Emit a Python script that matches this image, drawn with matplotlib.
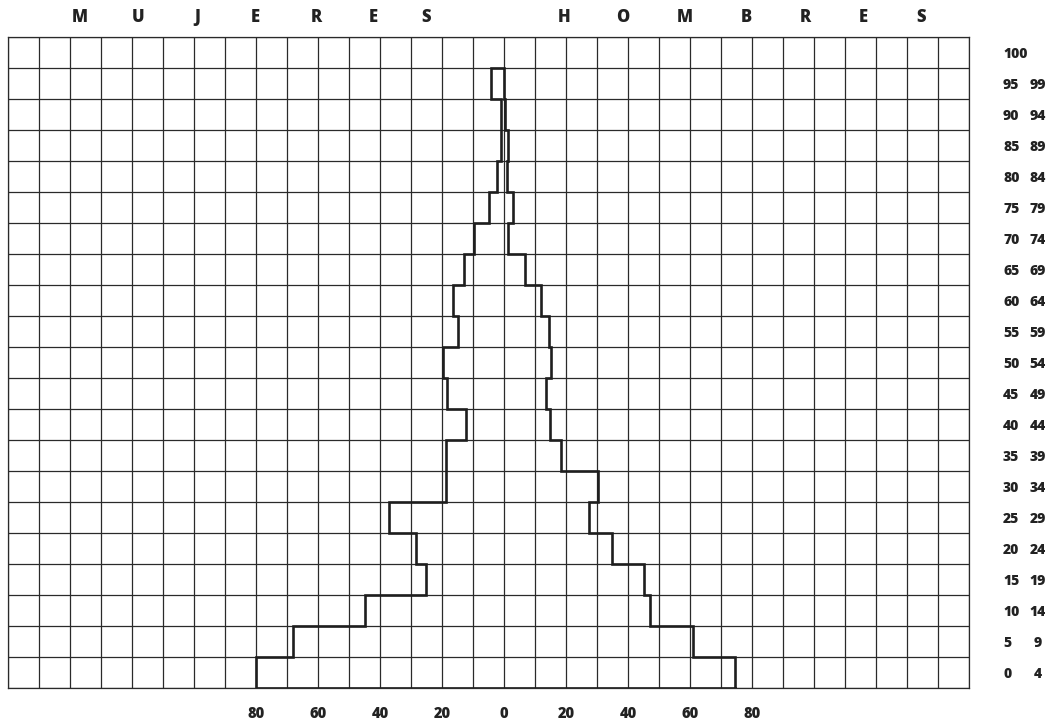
import numpy as np
import matplotlib
matplotlib.use("Agg")
import matplotlib.pyplot as plt
import matplotlib.transforms as mtransforms

# age groups (lower, upper) from bottom to top; last row is "100"
age_low  = [0, 5, 10, 15, 20, 25, 30, 35, 40, 45, 50, 55, 60, 65, 70, 75, 80, 85, 90, 95, 100]
age_high = [4, 9, 14, 19, 24, 29, 34, 39, 44, 49, 54, 59, 64, 69, 74, 79, 84, 89, 94, 99, None]

# values per age group (0-4 ... 95-99)
mujeres = [80, 68, 45, 25, 28.5, 37, 18.7, 18.7, 12.2, 18.5,
           19.6, 14.8, 16.5, 13, 9.6, 4.8, 2.4, 1.1, 1.1, 4.1]
hombres = [74.5, 61, 47, 45.3, 34.8, 27.4, 30.2, 18.3, 15, 13.4,
           15.2, 14.5, 11.8, 6.7, 1.3, 3.0, 1.1, 1.4, 0.2, 0.0]

x_ticks = [-80, -60, -40, -20, 0, 20, 40, 60, 80]
title_left  = "MUJERES"
title_right = "HOMBRES"

TXT = "#222222"
LINE = "#2a2a2a"
plt.rcParams['font.family'] = ['Open Sans', 'DejaVu Sans']

fig = plt.figure(figsize=(10.52, 7.26), dpi=100)
W, H = 1052, 726
ax = fig.add_axes([8 / W, 1 - 688 / H, (969 - 8) / W, (688 - 37) / H])

# ── grid ─────────────────────────────
ax.set_xlim(-160, 150)
ax.set_ylim(0, 105)
ax.set_xticks(np.arange(-160, 151, 10), minor=True)
ax.set_yticks(np.arange(0, 106, 5), minor=True)
ax.set_yticks([])
ax.set_xticks(x_ticks)
ax.set_xticklabels([str(abs(v)) for v in x_ticks], fontsize=10.5, fontweight='heavy', color=TXT)
ax.grid(True, which='both', color=LINE, linewidth=0.9)
ax.tick_params(which='both', length=0)
ax.tick_params(axis='x', pad=13)
for s in ax.spines.values():
    s.set_color(LINE)
    s.set_linewidth(0.9)

# ── pyramid outline ──────────────────
n = len(mujeres)
lo = np.array(age_low[:n], dtype=float)
hi = lo + 5
xs, ys = [], []
for i in range(n):
    xs += [hombres[i], hombres[i]]
    ys += [lo[i], hi[i]]
for i in reversed(range(n)):
    xs += [-mujeres[i], -mujeres[i]]
    ys += [hi[i], lo[i]]
xs.append(xs[0]); ys.append(ys[0])
ax.plot(xs, ys, color="#1e1e1e", linewidth=1.9, solid_joinstyle='miter', zorder=3)

# ── right-hand age labels ────────────
tr = mtransforms.blended_transform_factory(fig.transFigure, ax.transData)
for a, b in zip(age_low, age_high):
    yc = a + 2.3
    ax.text(1003 / W, yc, str(a), transform=tr, ha='left', va='center',
            fontsize=10, fontweight='heavy', color=TXT, clip_on=False)
    if b is not None:
        ax.text(1038 / W, yc, str(b), transform=tr, ha='center', va='center',
                fontsize=10, fontweight='heavy', color=TXT, clip_on=False)

# ── spaced titles ────────────────────
left_x  = [80, 138, 197, 255, 316, 373, 426]
right_x = [564, 623, 685, 746, 805, 863, 921]
for ch, px in zip(title_left, left_x):
    fig.text(px / W, 1 - 17 / H, ch, ha='center', va='center',
             fontsize=12, fontweight='heavy', color=TXT)
for ch, px in zip(title_right, right_x):
    fig.text(px / W, 1 - 17 / H, ch, ha='center', va='center',
             fontsize=12, fontweight='heavy', color=TXT)

fig.savefig("out.png", dpi=100)
